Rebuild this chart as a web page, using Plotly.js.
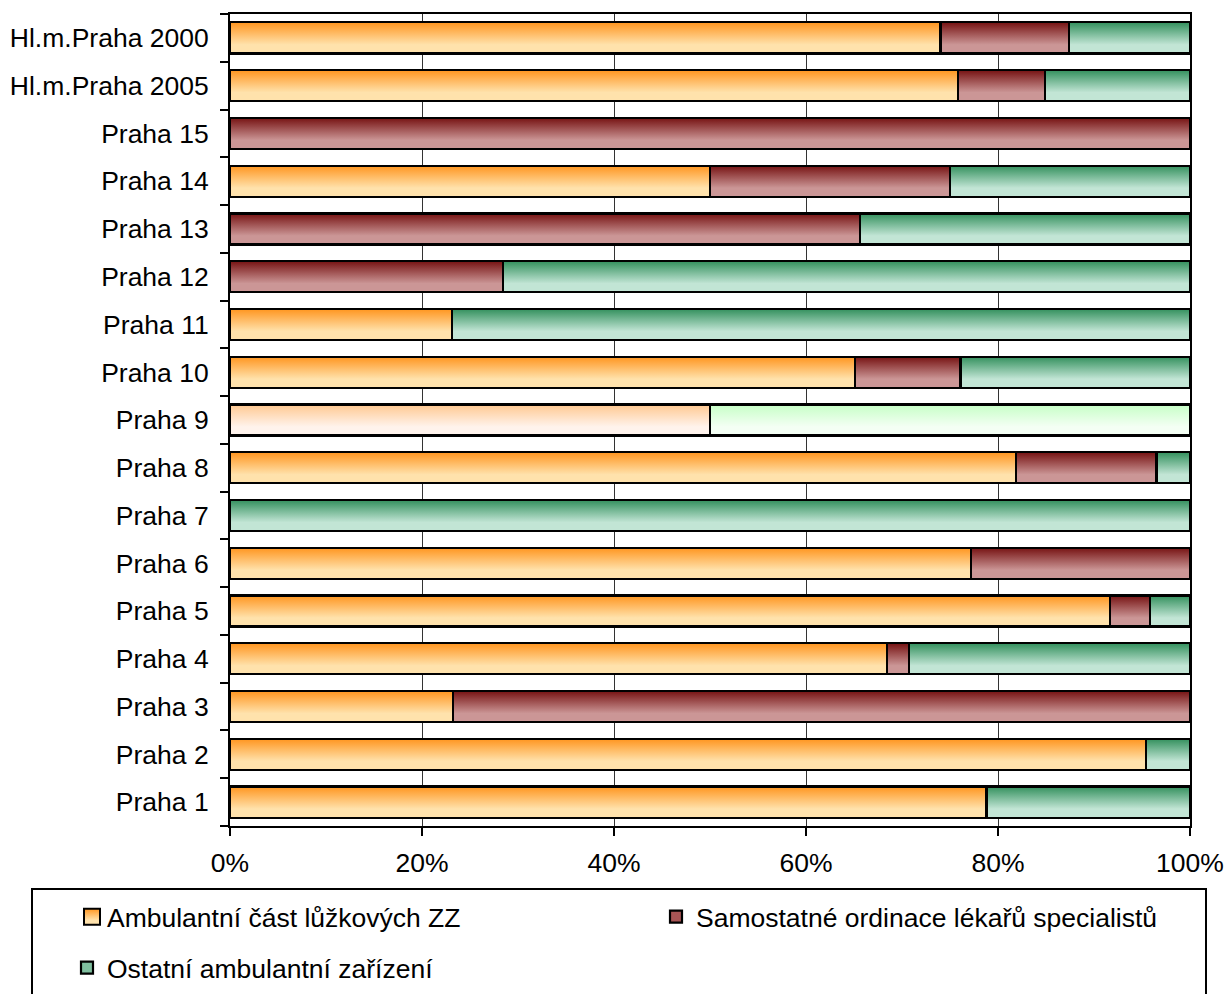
<!DOCTYPE html>
<html><head><meta charset="utf-8">
<script src="https://cdn.plot.ly/plotly-3.0.1.min.js"></script>
<style>html,body{margin:0;padding:0;background:#fff}#chart{width:1226px;height:994px}</style>
</head><body><div id="chart"></div>
<script>
// ---- data (percent shares), bottom category first ----
const categories = ['Praha 1','Praha 2','Praha 3','Praha 4','Praha 5','Praha 6','Praha 7','Praha 8','Praha 9','Praha 10','Praha 11','Praha 12','Praha 13','Praha 14','Praha 15','Hl.m.Praha 2005','Hl.m.Praha 2000'];
const ambulantni = [78.8, 95.4, 23.2, 68.4, 91.7, 77.2, 0, 81.9, 50, 65.1, 23.1, 0, 0, 50, 0, 75.8, 74.0];
const samostatne = [0, 0, 76.8, 2.3, 4.1, 22.8, 0, 14.6, 0, 11.0, 0, 28.4, 65.6, 25, 100, 9.1, 13.4];
const ostatni    = [21.2, 4.6, 0, 29.3, 4.2, 0, 100, 3.5, 50, 23.9, 76.9, 71.6, 34.4, 25, 0, 15.1, 12.6];
const seriesNames = ['Ambulantní část lůžkových ZZ', 'Samostatné ordinace lékařů specialistů', 'Ostatní ambulantní zařízení'];
const xTickVals = [0, 20, 40, 60, 80, 100];
const xTickText = ['0%', '20%', '40%', '60%', '80%', '100%'];
const lightCategory = 'Praha 9';

// ---- styles ----
const baseColors  = ['#FFBB66', '#A85555', '#7FBF9F'];
const lightColors = ['#FFE0C8', '#A85555', '#E0FFE0'];
const gradients = {
  '#FFBB66': ['#FF951F', '#FFE2AC'],
  '#A85555': ['#761212', '#CB9696'],
  '#7FBF9F': ['#33905D', '#C2E5D5'],
  '#FFE0C8': ['#FFC890', '#FFF3EC'],
  '#E0FFE0': ['#C6FFC6', '#F4FFF4']
};
const FONT = 'Liberation Sans, Arial, Helvetica, sans-serif';
const FS = 26.5;

const seriesValues = [ambulantni, samostatne, ostatni];
const legendIds = ['legend', 'legend2', 'legend3'];
const data = seriesValues.map((vals, s) => ({
  type: 'bar', orientation: 'h',
  name: seriesNames[s],
  x: vals, y: categories,
  legend: legendIds[s],
  marker: {
    color: categories.map(c => c === lightCategory ? lightColors[s] : baseColors[s]),
    line: {color: '#000', width: 2.2}
  },
  hoverinfo: 'skip'
}));

const W = 1226, H = 994;
const plotL = 230, plotR = 1190, plotT = 14, plotB = 826;
const px2paperX = p => (p - plotL) / (plotR - plotL);
const px2paperY = p => (plotB - p) / (plotB - plotT);

const legendBase = {xref: 'paper', yref: 'paper', xanchor: 'left', yanchor: 'middle', orientation: 'v',
  bgcolor: 'rgba(0,0,0,0)', borderwidth: 0, font: {family: FONT, size: FS, color: '#000'}};

const layout = {
  width: W, height: H,
  margin: {l: plotL, r: W - plotR, t: plotT, b: H - plotB, pad: 0, autoexpand: false},
  barmode: 'stack', bargap: 0.35, barnorm: 'percent',
  paper_bgcolor: '#fff', plot_bgcolor: '#fff',
  font: {family: FONT, size: FS, color: '#000'},
  showlegend: true,
  xaxis: {
    range: [0, 100], tickmode: 'array', tickvals: xTickVals, ticktext: xTickText, tickangle: 0,
    automargin: false,
    showgrid: true, gridcolor: '#333', gridwidth: 1, zeroline: false,
    showline: true, linecolor: '#000', linewidth: 2, mirror: true,
    ticks: 'outside', ticklen: 8, tickwidth: 2, tickcolor: '#000',
    ticklabelstandoff: 4, tickfont: {family: FONT, size: FS, color: '#000'}
  },
  yaxis: {
    type: 'category', categoryorder: 'array', categoryarray: categories,
    automargin: false,
    tickson: 'boundaries', ticks: 'outside', ticklen: 8, tickwidth: 2, tickcolor: '#000',
    showline: true, linecolor: '#000', linewidth: 2, mirror: true, showgrid: false,
    ticklabelstandoff: 14, tickfont: {family: FONT, size: FS, color: '#000'}
  },
  legend:  Object.assign({}, legendBase, {x: px2paperX(67),  y: px2paperY(917)}),
  legend2: Object.assign({}, legendBase, {x: px2paperX(656), y: px2paperY(917)}),
  legend3: Object.assign({}, legendBase, {x: px2paperX(67),  y: px2paperY(968)}),
  shapes: [{
    type: 'rect', xref: 'paper', yref: 'paper', layer: 'above',
    x0: px2paperX(32), x1: px2paperX(1206), y0: px2paperY(1020), y1: px2paperY(889),
    line: {color: '#000', width: 2}, fillcolor: 'rgba(0,0,0,0)'
  }]
};

function applyGradients(gd) {
  const ns = 'http://www.w3.org/2000/svg';
  const svg = gd.querySelector('.main-svg');
  const defs = document.createElementNS(ns, 'defs');
  svg.insertBefore(defs, svg.firstChild);
  const ids = {};
  Object.keys(gradients).forEach((col, k) => {
    const g = document.createElementNS(ns, 'linearGradient');
    const id = 'grad' + k;
    g.setAttribute('id', id);
    g.setAttribute('x1', '0'); g.setAttribute('y1', '0');
    g.setAttribute('x2', '0'); g.setAttribute('y2', '1');
    [[0, gradients[col][0]], [0.72, gradients[col][1]], [1, gradients[col][1]]].forEach(([o, c]) => {
      const st = document.createElementNS(ns, 'stop');
      st.setAttribute('offset', o); st.setAttribute('stop-color', c);
      g.appendChild(st);
    });
    defs.appendChild(g);
    ids[col] = id;
  });
  const traces = gd.querySelectorAll('.barlayer .trace');
  traces.forEach((tr, s) => {
    tr.querySelectorAll('.point path').forEach(p => {
      const d = p.__data__;
      const idx = d && d.i !== undefined ? d.i : 0;
      const col = data[s].marker.color[idx];
      if (ids[col]) p.style.fill = 'url(#' + ids[col] + ')';
    });
  });
  const legends = gd.querySelectorAll('.legend');
  legends.forEach(lg => {
    const cls = lg.getAttribute('class') || '';
    let s = 0;
    legendIds.forEach((lid, k) => { if (cls.split(' ').indexOf(lid) >= 0) s = k; });
    lg.querySelectorAll('.legendpoints path').forEach(p => {
      p.setAttribute('d', 'M8,8H-8V-8H8Z');
      p.setAttribute('transform', (p.getAttribute('transform') || '') + ' translate(5,0)');
      p.style.fill = 'url(#' + ids[baseColors[s]] + ')';
      p.style.stroke = '#000';
      p.style.strokeWidth = '2px';
    });
  });
}

Plotly.newPlot('chart', data, layout, {staticPlot: true, displayModeBar: false}).then(applyGradients);
</script>
</body></html>
